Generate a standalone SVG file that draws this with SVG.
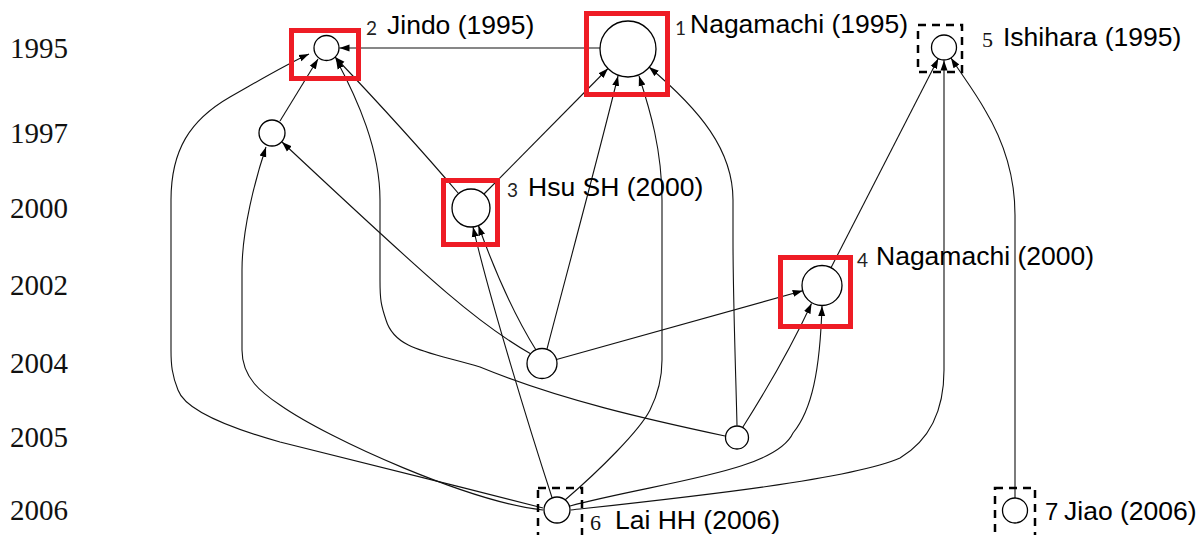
<svg xmlns="http://www.w3.org/2000/svg" width="1201" height="535" viewBox="0 0 1201 535">
<style>
.yr{font-family:"Liberation Serif",serif;font-size:29px;fill:#111}
.lb{font-family:"Liberation Sans",Arial,sans-serif;font-size:26.5px;fill:#000}
.nm{font-family:Lato,"Liberation Sans",sans-serif;font-size:19px;fill:#222}
.nms{font-family:"Liberation Serif",serif;font-size:22px;fill:#111}
.nd{fill:#fff;stroke:#000;stroke-width:1.3}
.hl{fill:none;stroke:#ee1c25;stroke-width:5}
.db{fill:none;stroke:#000;stroke-width:2.5;stroke-dasharray:8 6}
.e{fill:none;stroke:#111;stroke-width:1.1;marker-end:url(#ah)}
</style>
<defs>
<marker id="ah" markerUnits="userSpaceOnUse" markerWidth="11" markerHeight="8" refX="10" refY="4" orient="auto">
<path d="M0,0.5 L10,4 L0,7.5 z" fill="#000"/>
</marker>
</defs>
<rect width="1201" height="535" fill="#fff"/>
<g id="years">
<text class="yr" x="10" y="58">1995</text>
<text class="yr" x="10" y="143">1997</text>
<text class="yr" x="10" y="218">2000</text>
<text class="yr" x="10" y="295">2002</text>
<text class="yr" x="10" y="373">2004</text>
<text class="yr" x="10" y="447">2005</text>
<text class="yr" x="10" y="520">2006</text>
</g>
<g id="connectors">
<path class="e" d="M600,48 L339.5,48"/>
<path class="e" d="M280,121 L318,59"/>
<path class="e" d="M543,508 C450,484 330,455 280,442 C230,428 185,410 178,390 C172,375 171,365 171,350 L171,200 C171,150 190,120 230,97 C260,80 285,65 309,54"/>
<path class="e" d="M543,510 C470,502 330,440 280,405 C262,393 242,378 242,350 L242,270 C242,230 255,180 266,147"/>
<path class="e" d="M725,436 C650,420 560,400 480,367 C430,352 395,350 386,320 C381,305 380,300 380,280 L380,200 C380,150 358,100 336,59"/>
<path class="e" d="M458.5,193.5 C430,160 390,115 335,57"/>
<path class="e" d="M531,354 C480,325 440,290 282,142"/>
<path class="e" d="M484,194 L608,68.5"/>
<path class="e" d="M547,349 C565,280 600,150 618,76"/>
<path class="e" d="M565,500 C600,470 640,430 650,410 C660,390 662,375 662,360 L662,200 C662,150 650,110 639,76"/>
<path class="e" d="M737,425.5 C736,380 733,300 733,240 L733,200 C733,150 700,110 649,67"/>
<path class="e" d="M556.5,359.5 L802.7,290.8"/>
<path class="e" d="M742.6,427.5 C760,400 790,350 811.5,303.5"/>
<path class="e" d="M570,506 C660,482 775,472 793,433 C812,410 820,370 822,306"/>
<path class="e" d="M571,510 C680,498 850,480 900,458 C930,440 944,410 944,370 L944,60.5"/>
<path class="e" d="M831,267.7 L938.3,58.6"/>
<path class="e" d="M1015,498 L1015,215 C1015,170 1000,135 985,110 C975,92 962,75 951,58"/>
<path class="e" d="M536,350 Q505,300 478.4,225.5"/>
<path class="e" d="M552,497.5 C530,430 490,300 473,227"/>
</g>
<g id="node1">
<circle class="nd" cx="628" cy="49" r="28"/>
<rect class="hl" x="586.5" y="13.5" width="81" height="81"/>
<text class="nm" x="675" y="35">1</text>
<text class="lb" x="690" y="33">Nagamachi (1995)</text>
</g>
<g id="node2">
<circle class="nd" cx="326.5" cy="48" r="12.5"/>
<rect class="hl" x="291.5" y="30.5" width="67" height="48"/>
<text class="nm" x="366" y="35">2</text>
<text class="lb" x="387" y="34">Jindo (1995)</text>
</g>
<g id="node5">
<circle class="nd" cx="944" cy="47.5" r="12.5"/>
<rect class="db" x="918" y="25" width="44" height="47"/>
<text class="nms" x="982" y="47">5</text>
<text class="lb" x="1003" y="46">Ishihara (1995)</text>
</g>
<g id="node1997">
<circle class="nd" cx="272" cy="133" r="13"/>
</g>
<g id="node3">
<circle class="nd" cx="471" cy="208" r="19"/>
<rect class="hl" x="443.5" y="180.5" width="54" height="64"/>
<text class="nm" x="507" y="197">3</text>
<text class="lb" x="528" y="196">Hsu SH (2000)</text>
</g>
<g id="node4">
<circle class="nd" cx="822" cy="285.5" r="20"/>
<rect class="hl" x="780.5" y="257.5" width="70" height="69"/>
<text class="nm" x="857" y="267">4</text>
<text class="lb" x="876" y="265">Nagamachi (2000)</text>
</g>
<g id="node2004">
<circle class="nd" cx="542" cy="363.5" r="15"/>
</g>
<g id="node2005">
<circle class="nd" cx="737" cy="437.5" r="11.5"/>
</g>
<g id="node6">
<circle class="nd" cx="557" cy="510" r="13"/>
<rect class="db" x="538" y="488" width="44" height="52"/>
<text class="nms" x="590" y="530">6</text>
<text class="lb" x="615" y="529">Lai HH (2006)</text>
</g>
<g id="node7">
<circle class="nd" cx="1015" cy="510.5" r="12.5"/>
<rect class="db" x="995" y="488" width="40" height="52"/>
<text class="lb" x="1045" y="520" style="font-size:24px">7</text>
<text class="lb" x="1064" y="520">Jiao (2006)</text>
</g>
</svg>
